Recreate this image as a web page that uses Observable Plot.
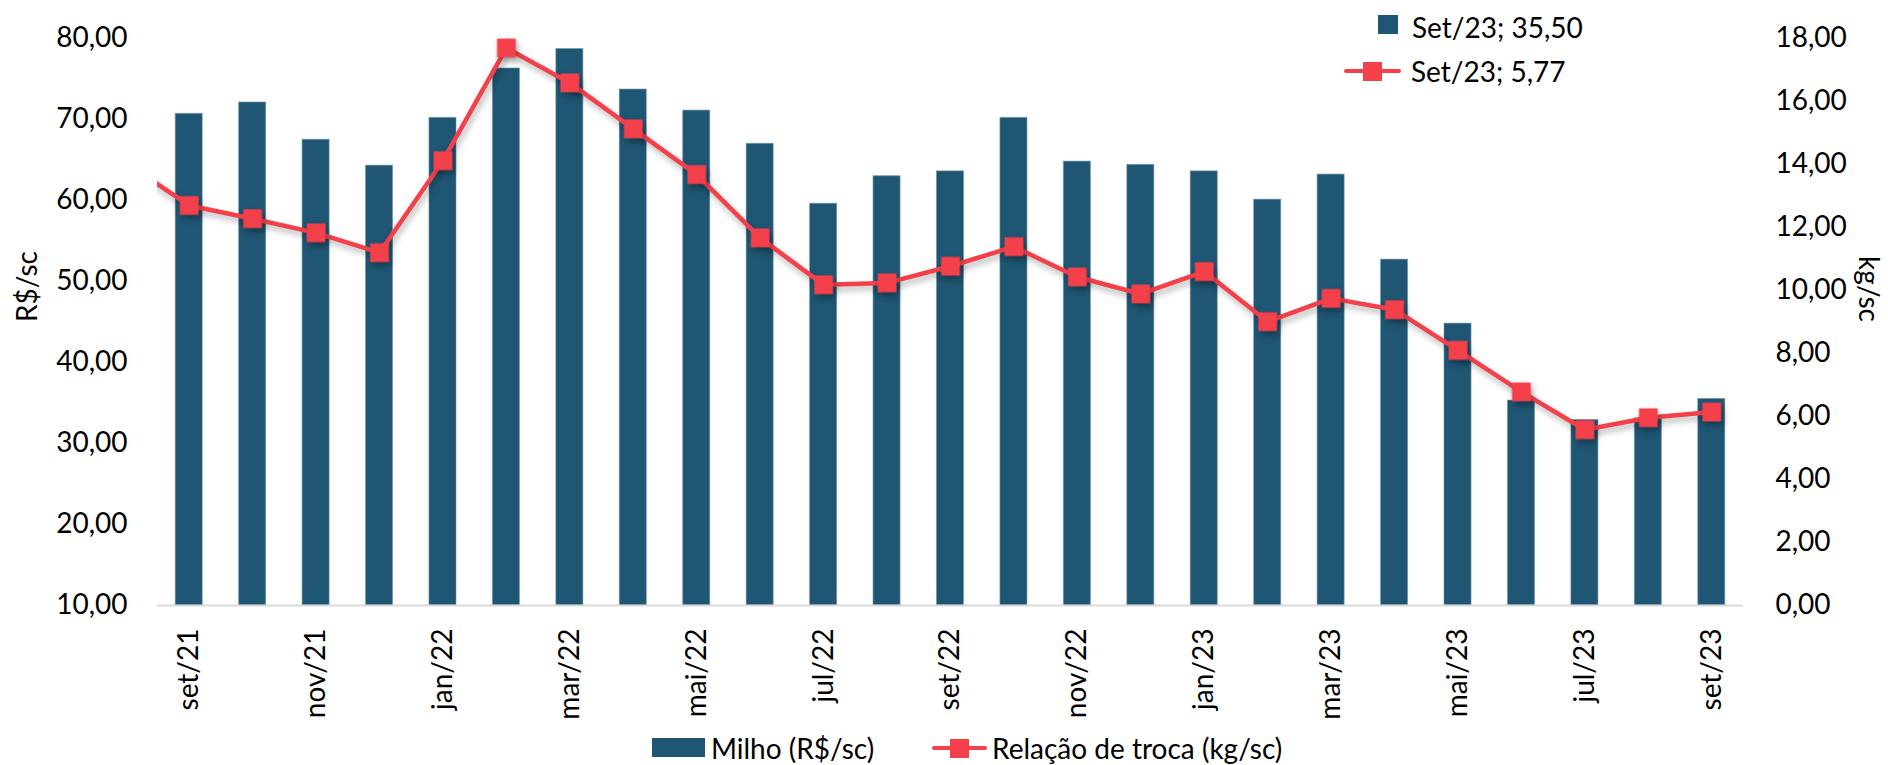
<!DOCTYPE html>
<html>
<head>
<meta charset="utf-8">
<script src="https://cdn.jsdelivr.net/npm/d3@7"></script>
<script src="https://cdn.jsdelivr.net/npm/@observablehq/plot@0.6"></script>
<style>
  html, body { margin: 0; padding: 0; background: #fff; }
  #wrap { position: relative; width: 1888px; height: 765px; font-family: Lato, "Open Sans", sans-serif; color: #000; overflow: hidden; }
  #chart { position: absolute; left: 0; top: 0; }
  .lg { position: absolute; font-size: 28px; line-height: 40px; height: 40px; white-space: nowrap; }
  .sw { position: absolute; }
  #chart svg g[aria-label="line"], #chart svg g[aria-label="dot"] { filter: drop-shadow(2px 4px 3px rgba(0,0,0,0.3)); }
</style>
</head>
<body>
<div id="wrap">
  <div id="chart"></div>
  <!-- top-right legend -->
  <div class="sw" style="left:1378px;top:15px;width:20px;height:19px;background:#1f5673;"></div>
  <div class="lg" style="left:1412px;top:7px;">Set/23; 35,50</div>
  <div class="sw" style="left:1344px;top:69px;width:57px;height:4px;border-radius:2px;background:#f4404a;"></div>
  <div class="sw" style="left:1363px;top:61.5px;width:19px;height:19px;background:#f4404a;"></div>
  <div class="lg" style="left:1411px;top:51px;">Set/23; 5,77</div>
  <!-- bottom legend -->
  <div class="sw" style="left:652px;top:738px;width:53px;height:19px;background:#1f5673;"></div>
  <div class="lg" style="left:711px;top:728px;">Milho (R$/sc)</div>
  <div class="sw" style="left:932px;top:746px;width:55px;height:4px;border-radius:2px;background:#f4404a;"></div>
  <div class="sw" style="left:950px;top:738.5px;width:19px;height:19px;background:#f4404a;"></div>
  <div class="lg" style="left:992px;top:728px;">Relação de troca (kg/sc)</div>
</div>
<script>
// ---- data ----
const months = ["set/21","out/21","nov/21","dez/21","jan/22","fev/22","mar/22","abr/22","mai/22","jun/22","jul/22","ago/22","set/22","out/22","nov/22","dez/22","jan/23","fev/23","mar/23","abr/23","mai/23","jun/23","jul/23","ago/23","set/23"];
const milho = [70.7,72.1,67.5,64.3,70.2,76.3,78.7,73.7,71.1,67.0,59.6,63.0,63.6,70.2,64.8,64.4,63.6,60.1,63.2,52.7,44.8,35.3,32.9,33.1,35.5];
const relacao = [12.70,12.28,11.83,11.20,14.12,17.70,16.59,15.13,13.68,11.67,10.18,10.24,10.77,11.39,10.43,9.89,10.60,9.01,9.75,9.39,8.10,6.78,5.58,5.96,6.14];
const relacaoPrev = 14.05; // ago/21, outside the visible range (clipped)
const leftTicks = [10,20,30,40,50,60,70,80];
const rightTicks = [0,2,4,6,8,10,12,14,16,18];
const xTicks = [0,2,4,6,8,10,12,14,16,18,20,22,24];

// ---- helpers ----
const L0 = 10, L1 = 80, R0 = 0, R1 = 18;
const toLeft = v => L0 + (v - R0) * (L1 - L0) / (R1 - R0);
const fromLeft = v => R0 + (v - L0) * (R1 - R0) / (L1 - L0);
const fmt = v => v.toFixed(2).replace(".", ",");

const barData = months.map((m, i) => ({i, m, v: milho[i]}));
const lineData = [{i: -1, v: relacaoPrev}, ...months.map((m, i) => ({i, m, v: relacao[i]}))];
const dotData = lineData.filter(d => d.i >= 0);

const RED = "#f4404a", BLUE = "#1f5673";

const chart = Plot.plot({
  width: 1888,
  height: 725,
  marginLeft: 157,
  marginRight: 145,
  marginTop: 38,
  marginBottom: 120,
  style: {fontFamily: "Lato, 'Open Sans', sans-serif", fontSize: "28px", color: "#000", background: "transparent", overflow: "visible"},
  x: {type: "linear", domain: [-0.5, 24.5]},
  y: {domain: [L0, L1]},
  marks: [
    Plot.rectY(barData, {x1: d => d.i - 0.5, x2: d => d.i + 0.5, y1: L0, y2: "v", fill: BLUE, stroke: "#6f95ad", strokeWidth: 1, strokeOpacity: 0.6, insetLeft: 18.2, insetRight: 18.2}),
    Plot.ruleY([L0], {stroke: "#d9d9d9", strokeWidth: 2}),
    Plot.line(lineData, {x: "i", y: d => toLeft(d.v), stroke: RED, strokeWidth: 4.5, clip: true}),
    Plot.dot(dotData, {x: "i", y: d => toLeft(d.v), symbol: "square", r: 10.6, fill: RED, stroke: "none"}),
    Plot.axisY(leftTicks, {anchor: "left", tickSize: 0, tickPadding: 30, tickFormat: fmt, label: null, fontSize: 28}),
    Plot.axisY(rightTicks.map(toLeft), {anchor: "right", tickSize: 0, tickPadding: 32, tickFormat: d => fmt(fromLeft(d)), label: null, fontSize: 28}),
    Plot.axisX(xTicks, {anchor: "bottom", tickSize: 0, tickPadding: 23, tickRotate: -90, textAnchor: "end", lineAnchor: "middle", tickFormat: i => months[i], label: null, fontSize: 28}),
    Plot.text(["R$/sc"], {frameAnchor: "left", dx: -129, rotate: -90, fontSize: 28, fill: "#000"}),
    Plot.text(["kg/sc"], {frameAnchor: "right", dx: 124, rotate: 90, fontSize: 28, fill: "#000"})
  ]
});
document.getElementById("chart").appendChild(chart);
</script>
</body>
</html>
